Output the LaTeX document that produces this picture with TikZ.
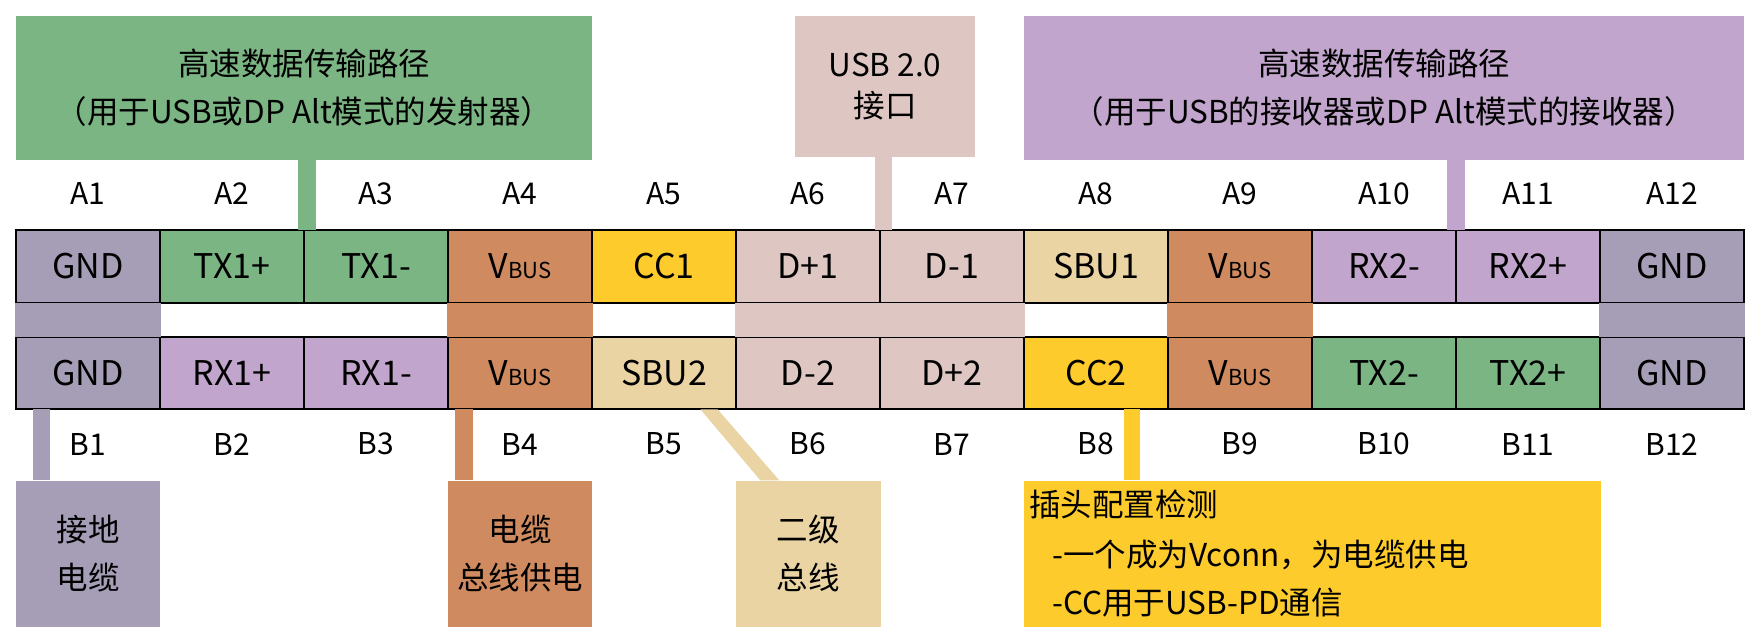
\documentclass[tikz,border=0pt]{standalone}
\usepackage{fontspec}
\setmainfont{Noto Sans CJK SC}
\definecolor{cgnd}{HTML}{A59EB6}
\definecolor{cgrn}{HTML}{7BB583}
\definecolor{corg}{HTML}{D08A5F}
\definecolor{cyel}{HTML}{FDCB2B}
\definecolor{cpnk}{HTML}{DEC6C2}
\definecolor{ctan}{HTML}{EAD4A4}
\definecolor{cpur}{HTML}{C1A5CC}
\newcommand{\vbus}{V{\fontsize{22}{22}\selectfont BUS}}
\begin{document}
\begin{tikzpicture}[x=1pt,y=-1pt,
  cell/.style={draw=black, line width=2pt, minimum width=144pt, minimum height=72.6pt, inner sep=0pt, font=\fontsize{34}{34}\selectfont},
  pinlbl/.style={inner sep=0pt, font=\fontsize{30}{30}\selectfont},
  infobox/.style={inner sep=0pt, draw=none, align=center, font=\fontsize{31.5}{48}\selectfont},
  yltxt/.style={inner sep=0pt, anchor=base west, font=\fontsize{31.5}{48}\selectfont}]
\useasboundingbox (0,0) rectangle (1760,641);

% top info boxes
\node[infobox, fill=cgrn, minimum width=576pt, minimum height=144pt] (gbox) at (304,88)
  {高速数据传输路径\\（用于USB或DP Alt模式的发射器）};
\node[infobox, fill=cpnk, minimum width=180pt, minimum height=141pt, font=\fontsize{31.5}{41}\selectfont] (ubox) at (885,86.5)
  {USB 2.0\\接口};
\node[infobox, fill=cpur, minimum width=720pt, minimum height=144pt] (pbox) at (1384,88)
  {高速数据传输路径\\（用于USB的接收器或DP Alt模式的接收器）};

% row A
\node[cell, fill=cgnd] (a1) at (88,266.4) {GND};
\node[cell, fill=cgrn] (a2) at (232,266.4) {TX1+};
\node[cell, fill=cgrn] (a3) at (376,266.4) {TX1-};
\node[cell, fill=corg] (a4) at (520,266.4) {\vbus};
\node[cell, fill=cyel] (a5) at (664,266.4) {CC1};
\node[cell, fill=cpnk] (a6) at (808,266.4) {D+1};
\node[cell, fill=cpnk] (a7) at (952,266.4) {D-1};
\node[cell, fill=ctan] (a8) at (1096,266.4) {SBU1};
\node[cell, fill=corg] (a9) at (1240,266.4) {\vbus};
\node[cell, fill=cpur] (a10) at (1384,266.4) {RX2-};
\node[cell, fill=cpur] (a11) at (1528,266.4) {RX2+};
\node[cell, fill=cgnd] (a12) at (1672,266.4) {GND};

% row B
\node[cell, fill=cgnd] (b1) at (88,373) {GND};
\node[cell, fill=cpur] (b2) at (232,373) {RX1+};
\node[cell, fill=cpur] (b3) at (376,373) {RX1-};
\node[cell, fill=corg] (b4) at (520,373) {\vbus};
\node[cell, fill=ctan] (b5) at (664,373) {SBU2};
\node[cell, fill=cpnk] (b6) at (808,373) {D-2};
\node[cell, fill=cpnk] (b7) at (952,373) {D+2};
\node[cell, fill=cyel] (b8) at (1096,373) {CC2};
\node[cell, fill=corg] (b9) at (1240,373) {\vbus};
\node[cell, fill=cgrn] (b10) at (1384,373) {TX2-};
\node[cell, fill=cgrn] (b11) at (1528,373) {TX2+};
\node[cell, fill=cgnd] (b12) at (1672,373) {GND};

% pin labels
\foreach \i in {1,...,12}{
  \node[pinlbl] (la\i) at (88+144*\i-144,193.5) {A\i};
  \node[pinlbl] (lb\i) at (88+144*\i-144,444) {B\i};
}

% strips between rows
\fill[cgnd] ([yshift=1pt]a1.south west) rectangle ([yshift=-1pt]b1.north east);
\fill[corg] ([yshift=1pt]a4.south west) rectangle ([yshift=-1pt]b4.north east);
\fill[cpnk] ([yshift=1pt]a6.south west) rectangle ([yshift=-1pt]b7.north east);
\fill[corg] ([yshift=1pt]a9.south west) rectangle ([yshift=-1pt]b9.north east);
\fill[cgnd] ([yshift=1pt]a12.south west) rectangle ([yshift=-1pt]b12.north east);

% bottom info boxes
\node[infobox, fill=cgnd, minimum width=144pt, minimum height=146.2pt] (gndbox) at (88,553.6) {接地\\电缆};
\node[infobox, fill=corg, minimum width=144pt, minimum height=146.2pt] (vbox) at (520,553.6) {电缆\\总线供电};
\node[infobox, fill=ctan, minimum width=145pt, minimum height=146.2pt] (sbox) at (808,553.6) {二级\\总线};
\node[fill=cyel, minimum width=577pt, minimum height=146.2pt, inner sep=0pt] (ybox) at (1312,553.6) {};
\node[yltxt] (yl1) at (1029,516) {插头配置检测};
\node[yltxt] (yl2) at (1052,566) {-一个成为Vconn，为电缆供电};
\node[yltxt] (yl3) at (1052,614.5) {-CC用于USB-PD通信};

% connectors to top boxes
\fill[cgrn] ([xshift=-7pt,yshift=-1pt]a2.north east) rectangle ([xshift=11pt]a2.north east |- gbox.south);
\fill[cpnk] ([xshift=-6pt,yshift=-1pt]a6.north east) rectangle ([xshift=11pt]a6.north east |- ubox.south);
\fill[cpur] ([xshift=-10pt,yshift=-1pt]a10.north east) rectangle ([xshift=8pt]a10.north east |- pbox.south);

% connectors to bottom boxes
\fill[cgnd] ([xshift=18pt,yshift=1pt]b1.south west) rectangle ([xshift=35pt]b1.south west |- gndbox.north);
\fill[corg] ([xshift=8pt,yshift=1pt]b4.south west) rectangle ([xshift=26pt]b4.south west |- vbox.north);
\fill[cyel] ([xshift=100.6pt,yshift=1pt]b8.south west) rectangle ([xshift=116.8pt]b8.south west |- ybox.north);
\fill[ctan] ([xshift=109.4pt,yshift=1pt]b5.south west) -- ([xshift=126.6pt,yshift=1pt]b5.south west)
  -- ([xshift=44pt]sbox.north west) -- ([xshift=25pt]sbox.north west) -- cycle;
\end{tikzpicture}
\end{document}
